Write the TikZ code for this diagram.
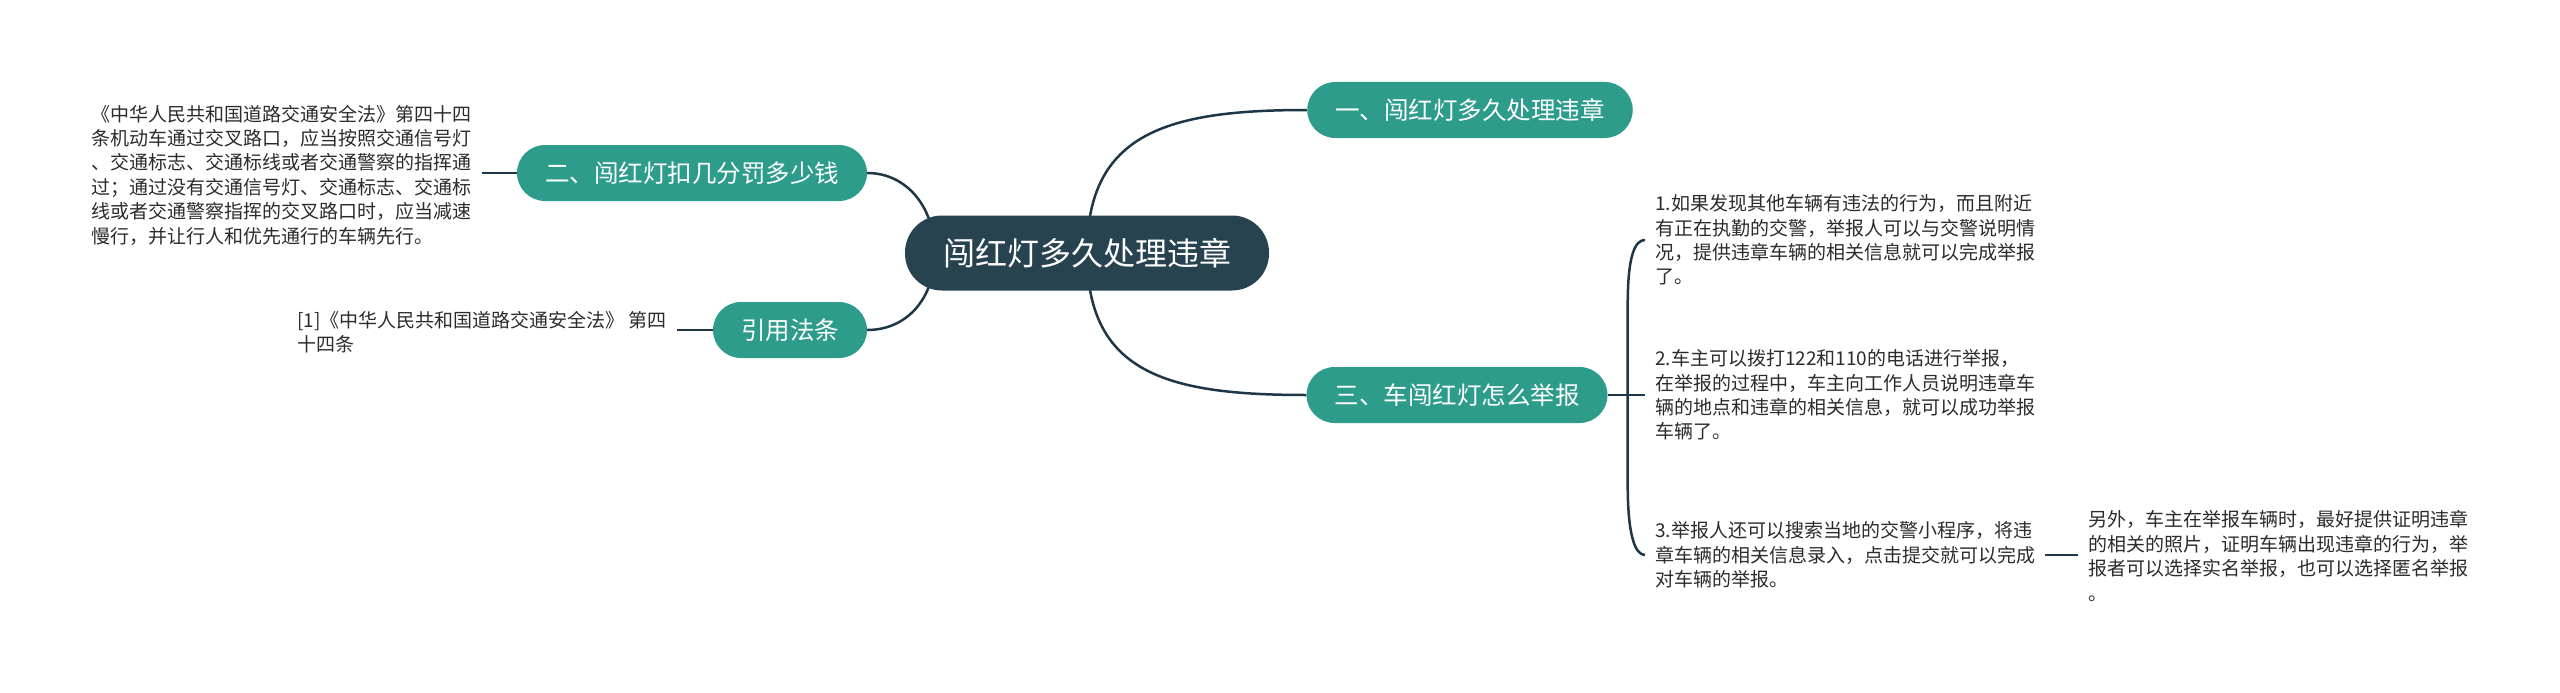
\documentclass[tikz,border=0pt]{standalone}
\usepackage{fontspec}
\setmainfont{Noto Sans CJK SC}
\usetikzlibrary{backgrounds,calc}
\definecolor{rootfill}{HTML}{27434F}
\definecolor{branchfill}{HTML}{2D9C8B}
\definecolor{linkcolor}{HTML}{1D3746}
\definecolor{leaftext}{HTML}{2B2B2B}

\begin{document}
\begin{tikzpicture}[x=1pt, y=-1pt,
    hub/.style={rounded corners=37pt, fill=rootfill, text=white, minimum height=75pt,
      inner xsep=38pt, font=\fontsize{32}{38}\selectfont},
    topic/.style={rounded corners=28pt, fill=branchfill, text=white, minimum height=56pt,
      inner xsep=28pt, font=\fontsize{24.5}{29}\selectfont},
    leaf/.style={align=left, inner sep=10pt, text=leaftext, font=\fontsize{19}{24.4}\selectfont},
    wire/.style={draw=linkcolor, line width=2.5pt}
  ]
  \useasboundingbox (0,0) rectangle (2560,693);

  \node[hub] (root) at (1087,253) {闯红灯多久处理违章};
  \node[topic] (b1) at (1470,110) {一、闯红灯多久处理违章};
  \node[topic] (b2) at (692,173) {二、闯红灯扣几分罚多少钱};
  \node[topic] (b3) at (1457,395) {三、车闯红灯怎么举报};
  \node[topic] (b4) at (790,330) {引用法条};

  % left side texts
  \node[leaf, anchor=east] (lawtext) at (482,175) {《中华人民共和国道路交通安全法》第四十四\\条机动车通过交叉路口，应当按照交通信号灯\\、交通标志、交通标线或者交通警察的指挥通\\过；通过没有交通信号灯、交通标志、交通标\\线或者交通警察指挥的交叉路口时，应当减速\\慢行，并让行人和优先通行的车辆先行。};
  \node[leaf, anchor=east] (reftext) at (677,332) {[1]《中华人民共和国道路交通安全法》 第四\\十四条};

  % right side texts
  \node[leaf, anchor=west] (step1) at (1645,240) {1.如果发现其他车辆有违法的行为，而且附近\\有正在执勤的交警，举报人可以与交警说明情\\况，提供违章车辆的相关信息就可以完成举报\\了。};
  \node[leaf, anchor=west] (step2) at (1645,395) {2.车主可以拨打122和110的电话进行举报，\\在举报的过程中，车主向工作人员说明违章车\\辆的地点和违章的相关信息，就可以成功举报\\车辆了。};
  \node[leaf, anchor=west] (step3) at (1645,555) {3.举报人还可以搜索当地的交警小程序，将违\\章车辆的相关信息录入，点击提交就可以完成\\对车辆的举报。};
  \node[leaf, anchor=west] (extra) at (2078,556) {另外，车主在举报车辆时，最好提供证明违章\\的相关的照片，证明车辆出现违章的行为，举\\报者可以选择实名举报，也可以选择匿名举报\\。};

  \begin{scope}[on background layer]
    \draw[wire] (root.center) .. controls +(0,-120) and +(-140,0) .. (b1.west);
    \draw[wire] (root.center) .. controls +(0,120) and +(-140,0) .. (b3.west);
    \draw[wire] (b2.east) .. controls +(40,0) and +(0,-45) .. ([xshift=30pt]root.west);
    \draw[wire] (b4.east) .. controls +(40,0) and +(0,45) .. ([xshift=30pt]root.west);
    \draw[wire] (b2.west) -- (b2.west -| lawtext.east);
    \draw[wire] (b4.west) -- (b4.west -| reftext.east);
    \coordinate (fork) at ([xshift=20pt]b3.east);
    \draw[wire] (b3.east) -- (b3.east -| step2.west);
    \draw[wire] (fork) -- ++(0,-90) .. controls +(0,-50) and +(-10,0) .. (step1.west);
    \draw[wire] (fork) -- ++(0,90) .. controls +(0,50) and +(-10,0) .. (step3.west);
    \draw[wire] (step3.east) -- (step3.east -| extra.west);
  \end{scope}
\end{tikzpicture}
\end{document}
